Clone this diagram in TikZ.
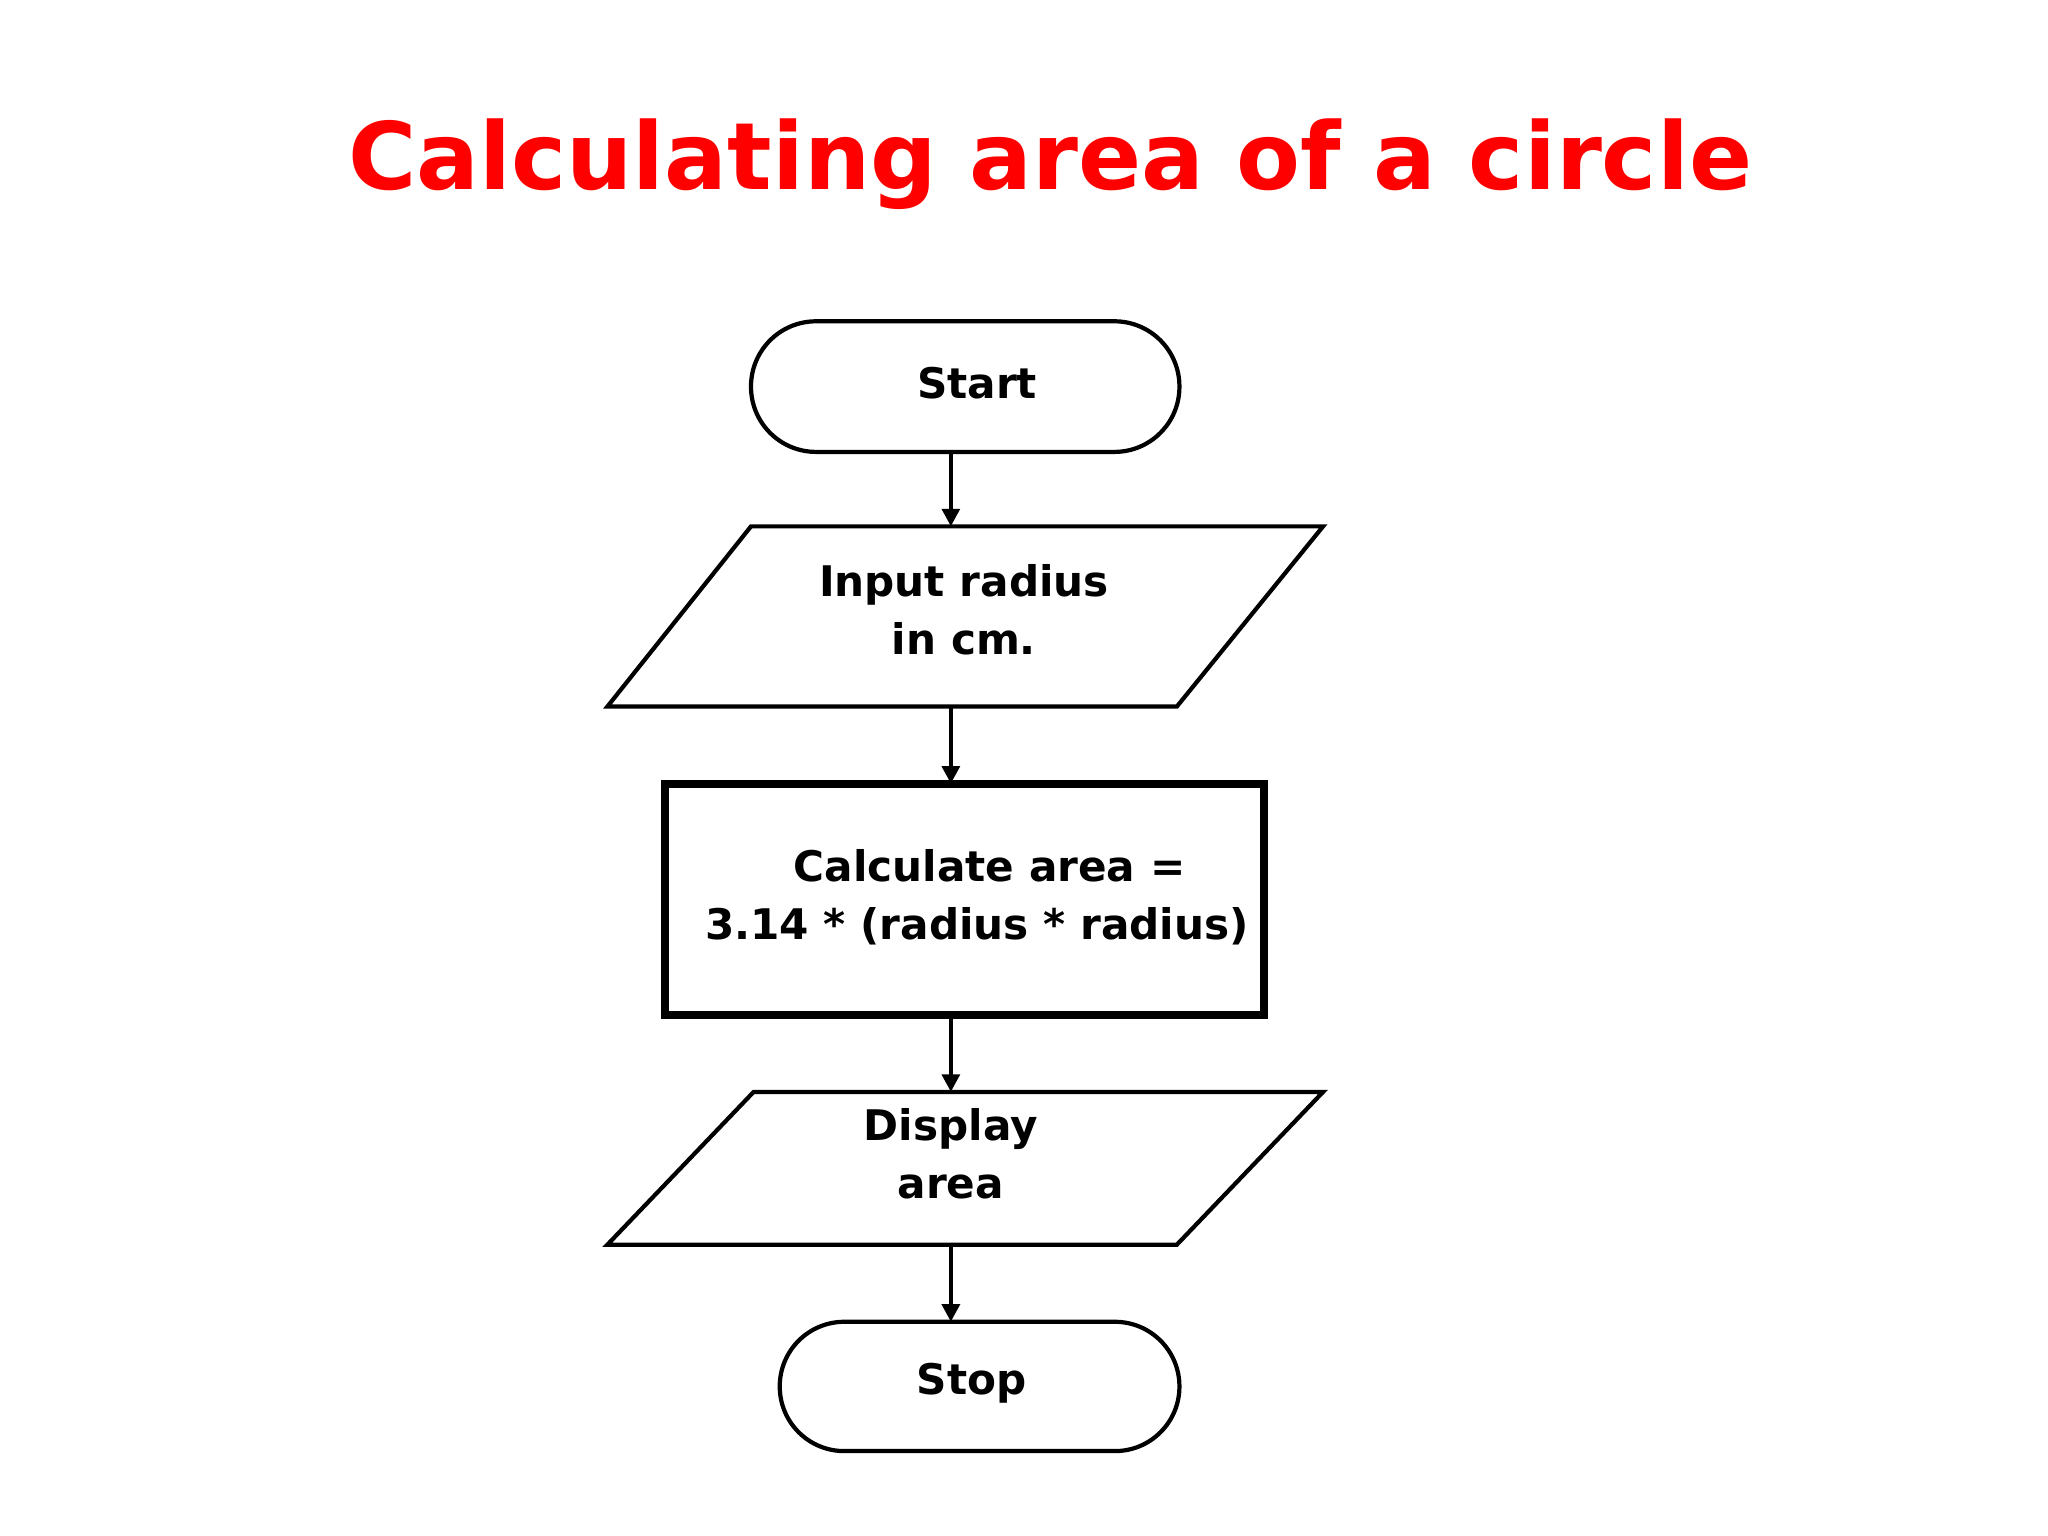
\documentclass[tikz,border=0pt]{standalone}
\usepackage{fontspec}
\setmainfont{DejaVu Sans}
\usetikzlibrary{arrows.meta}
\begin{document}
\begin{tikzpicture}[x=0.01306cm,y=-0.01306cm,
  shp/.style={draw=black,line width=1.2pt,line join=miter},
  lbl/.style={font=\bfseries\fontsize{12}{16.5}\selectfont,align=center,inner sep=0},
  conn/.style={draw=black,line width=1.2pt,-{Triangle[length=5pt,width=5pt]}}]
\useasboundingbox (0,0) rectangle (1568,1176);
\node[text=red,font=\bfseries\fontsize{26.5}{32}\selectfont] (title) at (804,126) {Calculating area of a circle};
% Start
\draw[shp,rounded corners=0.65cm] (575,246) rectangle (903,346);
\node[lbl] (start) at (748,293) {Start};
% Input
\draw[shp] (575,403) -- (1013,403) -- (901,541) -- (465,541) -- cycle;
\node[lbl] (input) at (738,467) {Input radius\\in cm.};
% Process
\draw[shp,line width=2.2pt] (509,600) rectangle (968,777);
\node[lbl] (proc) at (748,687) {\hspace*{0.6em}Calculate area =\\3.14 * (radius * radius)};
% Display
\draw[shp] (577,836) -- (1013,836) -- (901,953) -- (465,953) -- cycle;
\node[lbl] (disp) at (728,883) {Display\\area};
% Stop
\draw[shp,rounded corners=0.645cm] (597,1012) rectangle (903,1111);
\node[lbl] (stop) at (744,1059) {Stop};
% connector anchors
\coordinate (a1) at (728,346); \coordinate (b1) at (728,403);
\coordinate (a2) at (728,541); \coordinate (b2) at (728,600);
\coordinate (a3) at (728,777); \coordinate (b3) at (728,836);
\coordinate (a4) at (728,953); \coordinate (b4) at (728,1012);
\draw[conn] (a1) -- (b1);
\draw[conn] (a2) -- (b2);
\draw[conn] (a3) -- (b3);
\draw[conn] (a4) -- (b4);
\end{tikzpicture}
\end{document}
